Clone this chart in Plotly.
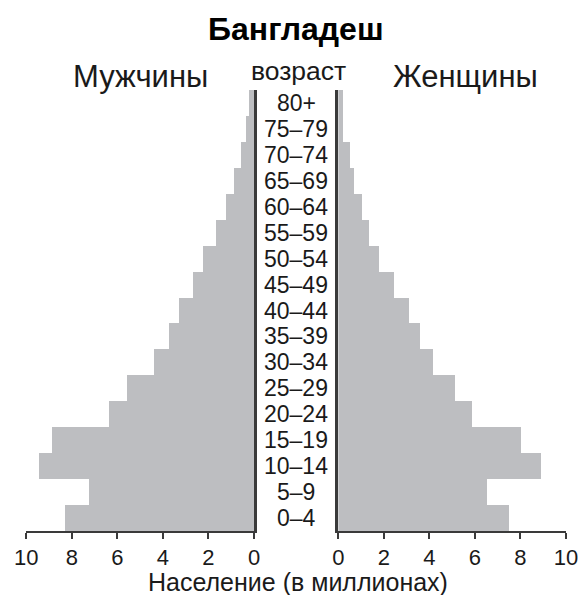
import plotly.graph_objects as go

age_groups = ["0–4", "5–9", "10–14", "15–19", "20–24", "25–29", "30–34", "35–39",
              "40–44", "45–49", "50–54", "55–59", "60–64", "65–69", "70–74", "75–79", "80+"]
males = [8.27, 7.25, 9.43, 8.88, 6.34, 5.55, 4.38, 3.72, 3.29, 2.68, 2.21, 1.64,
         1.22, 0.85, 0.56, 0.32, 0.21]
females = [7.51, 6.54, 8.90, 8.05, 5.89, 5.15, 4.17, 3.62, 3.12, 2.46, 1.80, 1.36,
           1.07, 0.69, 0.51, 0.22, 0.22]
x_ticks = [0, 2, 4, 6, 8, 10]

W, H = 582, 595
FONT = "Liberation Sans, Arial, sans-serif"
TXT = "#1a1a1a"
BAR = "#bdbec1"
LINE = "#3a3a3a"

idx = list(range(len(age_groups)))

fig = go.Figure()
fig.add_trace(go.Bar(y=idx, x=males, orientation="h", marker=dict(color=BAR, line=dict(width=0)),
                     xaxis="x", yaxis="y", showlegend=False, hoverinfo="x"))
fig.add_trace(go.Bar(y=idx, x=females, orientation="h", marker=dict(color=BAR, line=dict(width=0)),
                     xaxis="x2", yaxis="y2", showlegend=False, hoverinfo="x"))


def px_x(p):
    return p / W


def px_y(p):
    return 1 - p / H


ydom = [px_y(531), px_y(90)]
axis_common = dict(showgrid=False, zeroline=False, showline=True, linecolor=LINE, linewidth=2,
                   ticks="outside", ticklen=6, tickwidth=2, tickcolor=LINE, automargin=False,
                   tickvals=x_ticks, ticktext=[str(t) for t in x_ticks],
                   tickfont=dict(family=FONT, size=22, color=TXT), fixedrange=True)
yaxis_common = dict(domain=ydom, range=[-0.5, 16.5], showline=True, linecolor=LINE, linewidth=2.5,
                    showticklabels=False, ticks="", showgrid=False, zeroline=False,
                    automargin=False, fixedrange=True)

fig.update_layout(
    width=W, height=H,
    autosize=False,
    margin=dict(l=0, r=0, t=0, b=0, pad=0, autoexpand=False),
    paper_bgcolor="white", plot_bgcolor="white",
    bargap=0,
    xaxis=dict(domain=[px_x(26.3), px_x(254)], range=[10, 0], anchor="y", **axis_common),
    xaxis2=dict(domain=[px_x(338.3), px_x(566)], range=[0, 10], anchor="y2", **axis_common),
    yaxis=dict(anchor="x", side="right", **yaxis_common),
    yaxis2=dict(anchor="x2", side="left", **yaxis_common),
)

annotations = []
for i, lab in enumerate(age_groups):
    annotations.append(dict(x=px_x(296), y=i, xref="paper", yref="y", text=lab, showarrow=False,
                            xanchor="center", yanchor="middle",
                            font=dict(family=FONT, size=23, color=TXT)))

annotations += [
    dict(x=px_x(296), y=px_y(29), xref="paper", yref="paper", text="<b>Бангладеш</b>",
         showarrow=False, xanchor="center", yanchor="middle",
         font=dict(family=FONT, size=32, color="#000")),
    dict(x=px_x(140), y=px_y(76), xref="paper", yref="paper", text="Мужчины",
         showarrow=False, xanchor="center", yanchor="middle",
         font=dict(family=FONT, size=31, color=TXT)),
    dict(x=px_x(298.5), y=px_y(71), xref="paper", yref="paper", text="возраст",
         showarrow=False, xanchor="center", yanchor="middle",
         font=dict(family=FONT, size=26.5, color=TXT)),
    dict(x=px_x(465), y=px_y(76), xref="paper", yref="paper", text="Женщины",
         showarrow=False, xanchor="center", yanchor="middle",
         font=dict(family=FONT, size=31, color=TXT)),
    dict(x=px_x(298), y=px_y(582), xref="paper", yref="paper", text="Население (в миллионах)",
         showarrow=False, xanchor="center", yanchor="middle",
         font=dict(family=FONT, size=25, color=TXT)),
]
fig.update_layout(annotations=annotations)

fig.write_html(
    "out.html",
    config={"displayModeBar": False},
    post_script="document.body.style.margin='0';document.body.style.overflow='hidden';",
)
